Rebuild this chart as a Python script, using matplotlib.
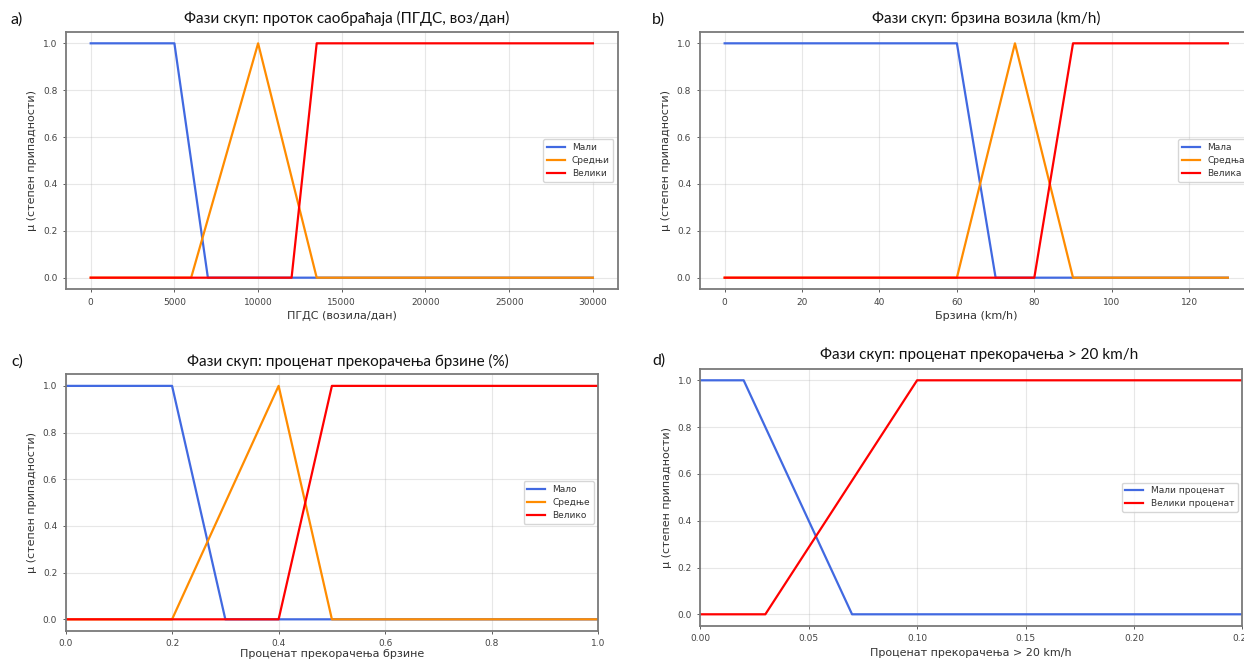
import matplotlib
matplotlib.use("Agg")
import matplotlib.pyplot as plt
from matplotlib.ticker import MultipleLocator, FormatStrFormatter

# ---- Fuzzy set breakpoints (x, membership) ----
# a) traffic flow, AADT (vehicles/day)
flow_low_x = [0, 5000, 7000, 30000]
flow_low_mu = [1, 1, 0, 0]
flow_mid_x = [0, 6000, 10000, 13500, 30000]
flow_mid_mu = [0, 0, 1, 0, 0]
flow_high_x = [0, 12000, 13500, 30000]
flow_high_mu = [0, 0, 1, 1]
flow_labels = ["Мали", "Средњи", "Велики"]

# b) vehicle speed (km/h)
speed_low_x = [0, 60, 70, 130]
speed_low_mu = [1, 1, 0, 0]
speed_mid_x = [0, 60, 75, 90, 130]
speed_mid_mu = [0, 0, 1, 0, 0]
speed_high_x = [0, 80, 90, 130]
speed_high_mu = [0, 0, 1, 1]
speed_labels = ["Мала", "Средња", "Велика"]

# c) share of speeding
share_low_x = [0, 0.2, 0.3, 1.0]
share_low_mu = [1, 1, 0, 0]
share_mid_x = [0, 0.2, 0.4, 0.5, 1.0]
share_mid_mu = [0, 0, 1, 0, 0]
share_high_x = [0, 0.4, 0.5, 1.0]
share_high_mu = [0, 0, 1, 1]
share_labels = ["Мало", "Средње", "Велико"]

# d) share exceeding the limit by > 20 km/h
over_low_x = [0, 0.02, 0.07, 0.25]
over_low_mu = [1, 1, 0, 0]
over_high_x = [0, 0.03, 0.10, 0.25]
over_high_mu = [0, 0, 1, 1]
over_labels = ["Мали проценат", "Велики проценат"]

titles = [
    "Фази скуп: проток саобраћаја (ПГДС, воз/дан)",
    "Фази скуп: брзина возила (km/h)",
    "Фази скуп: проценат прекорачења брзине (%)",
    "Фази скуп: проценат прекорачења > 20 km/h",
]
xlabels = [
    "ПГДС (возила/дан)",
    "Брзина (km/h)",
    "Проценат прекорачења брзине",
    "Проценат прекорачења > 20 km/h",
]
ylabel = "μ (степен припадности)"
panel_tags = ["a)", "b)", "c)", "d)"]

BLUE = "#4169E1"
ORANGE = "#FF8C00"
RED = "#FF0000"

W, H = 1244, 660
fig = plt.figure(figsize=(W / 100, H / 100), dpi=100)
fig.patch.set_facecolor("white")

HEAD_FONT = ["Lato", "DejaVu Sans"]


def add_px_axes(left, right, top, bottom):
    return fig.add_axes([left / W, 1 - bottom / H, (right - left) / W, (bottom - top) / H])


def style(ax, xlabel, xpad=3):
    ax.set_ylim(-0.05, 1.05)
    ax.yaxis.set_major_locator(MultipleLocator(0.2))
    ax.yaxis.set_major_formatter(FormatStrFormatter("%.1f"))
    ax.grid(True, color="#b0b0b0", alpha=0.3, linewidth=0.8)
    ax.set_axisbelow(True)
    for sp in ax.spines.values():
        sp.set_color("#7a7a7a")
        sp.set_linewidth(1.3)
    ax.tick_params(labelsize=6.5, colors="#444444", length=2.5, width=0.6)
    ax.set_xlabel(xlabel, fontsize=8, color="#333333", labelpad=xpad)
    ax.set_ylabel(ylabel, fontsize=8, color="#333333", labelpad=4)


def legend(ax, fs=6.5):
    ax.legend(loc="center right", fontsize=fs, frameon=True, framealpha=0.8,
              edgecolor="#cccccc", handlelength=2.0, borderpad=0.4,
              labelspacing=0.45, handletextpad=0.8, labelcolor="#333333")


LW = 1.6

# a)
ax = add_px_axes(65.6, 618, 31.6, 289.4)
ax.plot(flow_low_x, flow_low_mu, color=BLUE, lw=LW, label=flow_labels[0])
ax.plot(flow_mid_x, flow_mid_mu, color=ORANGE, lw=LW, label=flow_labels[1])
ax.plot(flow_high_x, flow_high_mu, color=RED, lw=LW, label=flow_labels[2])
ax.set_xlim(-1500, 31500)
ax.xaxis.set_major_locator(MultipleLocator(5000))
style(ax, xlabels[0])
legend(ax)

# b)
ax = add_px_axes(699.5, 1253, 31.6, 289.4)
ax.plot(speed_low_x, speed_low_mu, color=BLUE, lw=LW, label=speed_labels[0])
ax.plot(speed_mid_x, speed_mid_mu, color=ORANGE, lw=LW, label=speed_labels[1])
ax.plot(speed_high_x, speed_high_mu, color=RED, lw=LW, label=speed_labels[2])
ax.set_xlim(-6.5, 136.5)
ax.xaxis.set_major_locator(MultipleLocator(20))
style(ax, xlabels[1])
legend(ax)

# c)
ax = add_px_axes(65.5, 598.3, 374.2, 631)
ax.plot(share_low_x, share_low_mu, color=BLUE, lw=LW, label=share_labels[0])
ax.plot(share_mid_x, share_mid_mu, color=ORANGE, lw=LW, label=share_labels[1])
ax.plot(share_high_x, share_high_mu, color=RED, lw=LW, label=share_labels[2])
ax.set_xlim(0, 1)
ax.xaxis.set_major_locator(MultipleLocator(0.2))
ax.xaxis.set_major_formatter(FormatStrFormatter("%.1f"))
style(ax, xlabels[2], xpad=0.5)
legend(ax)

# d)
ax = add_px_axes(700.3, 1242.3, 368.6, 626)
ax.plot(over_low_x, over_low_mu, color=BLUE, lw=LW, label=over_labels[0])
ax.plot(over_high_x, over_high_mu, color=RED, lw=LW, label=over_labels[1])
ax.set_xlim(0, 0.25)
ax.xaxis.set_major_locator(MultipleLocator(0.05))
ax.xaxis.set_major_formatter(FormatStrFormatter("%.2f"))
style(ax, xlabels[3])
legend(ax)

# panel headings and tags
title_pos = [(347, 18), (986, 18), (348, 361), (979, 355)]
for (x, y), t in zip(title_pos, titles):
    fig.text(x / W, 1 - y / H, t, ha="center", va="center", fontsize=11,
             family=HEAD_FONT, color="#111111")

tag_pos = [(17, 20), (658, 20), (17, 362), (659, 361)]
for (x, y), t in zip(tag_pos, panel_tags):
    fig.text(x / W, 1 - y / H, t, ha="center", va="center", fontsize=11.5,
             family=HEAD_FONT, color="#111111")

fig.savefig("out.png", dpi=100)
